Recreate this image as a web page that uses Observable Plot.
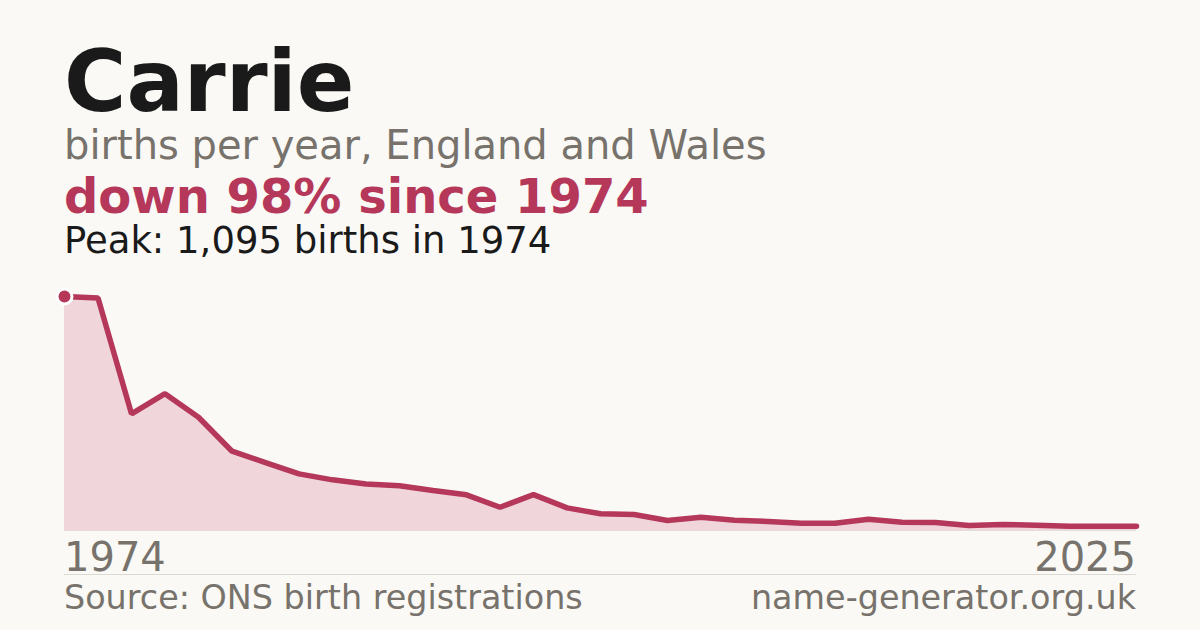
<!DOCTYPE html>
<html><head><meta charset="utf-8">
<script src="https://cdn.jsdelivr.net/npm/d3@7"></script>
<script src="https://cdn.jsdelivr.net/npm/@observablehq/plot@0.6"></script>
<style>
body{margin:0;background:#faf9f5;font-family:"DejaVu Sans",sans-serif;}
#page{position:relative;width:1200px;height:630px;overflow:hidden;background:#faf9f5;}
.t{position:absolute;white-space:nowrap;line-height:0.9;}
#chart{position:absolute;left:0;top:290px;width:1200px;}
#chart svg{max-width:none;}
#sep{position:absolute;left:64px;top:574px;width:1072px;height:1px;background:#dcd9d3;}
</style></head><body>
<div id="page">
  <div class="t" style="left:64px;top:44.3px;font-size:85px;font-weight:bold;color:#1a1a1a;">Carrie</div>
  <div class="t" style="left:64px;top:127px;font-size:40px;color:#77726b;">births per year, England and Wales</div>
  <div class="t" style="left:64px;top:175.4px;font-size:48px;font-weight:bold;color:#b5375a;">down 98% since 1974</div>
  <div class="t" style="left:64px;top:223.9px;font-size:37px;color:#1a1a1a;">Peak: 1,095 births in 1974</div>
  <div id="chart"></div>
  <div class="t" id="xfirst" style="left:64px;top:539px;font-size:40px;color:#77726b;"></div>
  <div class="t" id="xlast" style="right:64px;top:539px;font-size:40px;color:#77726b;"></div>
  <div id="sep"></div>
  <div class="t" style="left:64px;top:582.7px;font-size:33.4px;color:#77726b;">Source: ONS birth registrations</div>
  <div class="t" style="right:64px;top:582.7px;font-size:33.4px;color:#77726b;">name-generator.org.uk</div>
</div>
<script>
const years = [1974, 1984, 1994, 1996, 1997, 1998, 1999, 2000, 2001, 2002, 2003, 2004, 2005, 2006, 2007, 2008, 2009, 2010, 2011, 2012, 2013, 2014, 2015, 2016, 2017, 2018, 2019, 2020, 2021, 2022, 2023, 2024, 2025];
const births = [1095, 1088, 546, 640, 530, 371, 318, 265, 237, 218, 209, 187, 167, 109, 168, 106, 78, 75, 47, 62, 48, 42, 34, 34, 53, 39, 37, 23, 28, 25, 20, 20, 20];
const tickLabels = [String(years[0]), String(years[years.length - 1])];

const data = years.map((y, i) => ({i, year: y, births: births[i]}));
const peakVal = d3.max(births);
const peak = data.filter(d => d.births === peakVal);

const chart = Plot.plot({
  width: 1200,
  height: 250,
  marginLeft: 64,
  marginRight: 64,
  marginTop: 6,
  marginBottom: 10,
  style: {background: "transparent", overflow: "visible"},
  x: {type: "linear", domain: [0, years.length - 1], range: [64, 1136], axis: null},
  y: {domain: [0, peakVal], axis: null},
  marks: [
    Plot.areaY(data, {x: "i", y: "births", fill: "#f0d5db"}),
    Plot.ruleY([0], {x1: 0, x2: years.length - 1, stroke: "#e6dcdc", strokeWidth: 1}),
    Plot.lineY(data, {x: "i", y: "births", stroke: "#b5375a", strokeWidth: 5.5, strokeLinejoin: "miter"}),
    Plot.dot(peak, {x: "i", y: "births", r: 7.5, fill: "#b5375a", stroke: "white", strokeWidth: 3})
  ]
});
document.getElementById("chart").appendChild(chart);
document.getElementById("xfirst").textContent = tickLabels[0];
document.getElementById("xlast").textContent = tickLabels[1];
</script>
</body></html>
